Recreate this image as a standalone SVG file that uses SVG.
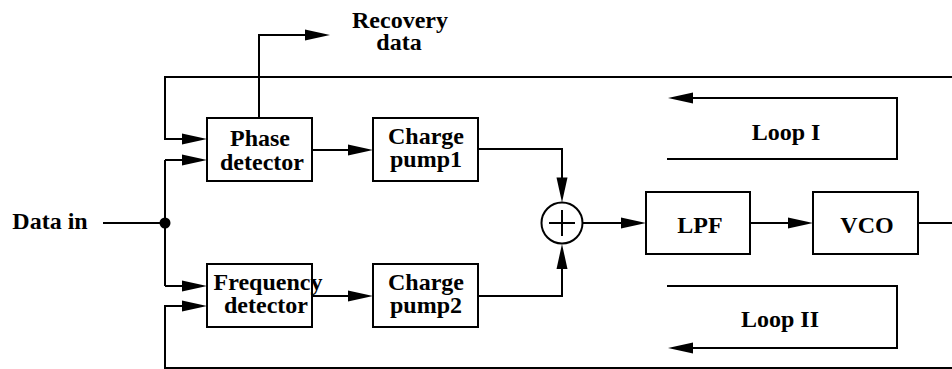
<svg xmlns="http://www.w3.org/2000/svg" width="952" height="369" viewBox="0 0 952 369">
<style>
.box{fill:#fff;stroke:#000;stroke-width:2}
.ln{fill:none;stroke:#000;stroke-width:2}
.arr{marker-end:url(#ah)}
text{font-family:"Liberation Serif","Times New Roman",serif;font-weight:bold;font-size:24px;fill:#000;text-anchor:middle}
</style>
<defs>
<marker id="ah" markerUnits="userSpaceOnUse" markerWidth="26" markerHeight="12" refX="20" refY="6" orient="auto" overflow="visible">
<path d="M0,0.5 L25,6 L0,11.5 z" fill="#000"/>
</marker>
</defs>
<rect width="952" height="369" fill="#fff"/>
<g id="connectors">
<path class="ln" d="M103,223 H165"/>
<path class="ln" d="M165,160 V286"/>
<path class="ln arr" d="M165,160 H202"/>
<path class="ln arr" d="M165,286 H202"/>
<path class="ln arr" d="M952,77 H165 V139 H202"/>
<path class="ln arr" d="M952,368 H165 V306 H202"/>
<path class="ln arr" d="M259,118 V35 H325"/>
<path class="ln arr" d="M312,150 H368"/>
<path class="ln arr" d="M312,296 H368"/>
<path class="ln arr" d="M478,149 H562 V197.5"/>
<path class="ln arr" d="M478,296 H562 V249"/>
<path class="ln arr" d="M583,223 H641"/>
<path class="ln arr" d="M750,223 H808"/>
<path class="ln" d="M918,223 H952"/>
<path class="ln arr" d="M667,159 H897 V98 H673"/>
<path class="ln arr" d="M667,286 H897 V348 H673"/>
<circle cx="165" cy="223" r="5.5" fill="#000"/>
</g>
<g id="data-in"><text x="50" y="229">Data in</text></g>
<g id="recovery"><text x="400" y="28">Recovery</text><text x="399" y="50">data</text></g>
<g id="phase-detector"><rect class="box" x="207" y="118" width="105" height="63"/><text x="260" y="146">Phase</text><text x="262" y="170">detector</text></g>
<g id="charge-pump1"><rect class="box" x="373" y="118" width="105" height="63"/><text x="426" y="144">Charge</text><text x="426" y="167">pump1</text></g>
<g id="frequency-detector"><rect class="box" x="207" y="264" width="105" height="63"/><text x="268" y="290">Frequency</text><text x="266" y="313">detector</text></g>
<g id="charge-pump2"><rect class="box" x="373" y="264" width="105" height="63"/><text x="426" y="290">Charge</text><text x="426" y="313">pump2</text></g>
<g id="adder"><circle class="box" cx="562" cy="223" r="20.5"/><path class="ln" d="M549,223 H575 M562,210 V236" stroke-width="1.5"/></g>
<g id="lpf"><rect class="box" x="646" y="192" width="104" height="62"/><text x="700" y="233">LPF</text></g>
<g id="vco"><rect class="box" x="813" y="192" width="105" height="62"/><text x="867" y="233">VCO</text></g>
<g id="loop1"><text x="786" y="140">Loop I</text></g>
<g id="loop2"><text x="780" y="327">Loop II</text></g>
</svg>
